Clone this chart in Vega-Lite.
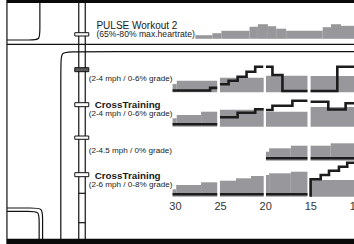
{
  "$schema": "https://vega.github.io/schema/vega-lite/v6.json",
  "width": 354,
  "height": 244,
  "padding": 0,
  "autosize": {"type": "none"},
  "background": "#ffffff",
  "config": {"view": {"stroke": null}},
  "datasets": {
    "gray": [
      {"t": 27.57, "t2": 25.69, "v": 35.2, "v2": 38.8},
      {"t": 25.69, "t2": 24.70, "v": 33.2, "v2": 38.8},
      {"t": 24.70, "t2": 21.57, "v": 30.8, "v2": 38.8},
      {"t": 21.57, "t2": 20.64, "v": 26.7, "v2": 38.8},
      {"t": 20.64, "t2": 19.53, "v": 24.2, "v2": 38.8},
      {"t": 19.53, "t2": 18.62, "v": 26.2, "v2": 38.8},
      {"t": 18.62, "t2": 17.51, "v": 28.7, "v2": 38.8},
      {"t": 17.51, "t2": 13.46, "v": 30.8, "v2": 38.8},
      {"t": 13.46, "t2": 12.54, "v": 27.2, "v2": 38.8},
      {"t": 12.54, "t2": 11.43, "v": 24.2, "v2": 38.8},
      {"t": 11.43, "t2": 9.9, "v": 25.8, "v2": 38.8},

      {"t": 30.1, "t2": 29.64, "v": 84.0, "v2": 92.3},
      {"t": 29.64, "t2": 25.15, "v": 80.7, "v2": 92.3},
      {"t": 24.85, "t2": 20.0, "v": 77.7, "v2": 92.3},
      {"t": 19.75, "t2": 15.15, "v": 75.7, "v2": 92.3},
      {"t": 14.8, "t2": 9.9, "v": 76.0, "v2": 92.3},

      {"t": 30.1, "t2": 29.64, "v": 118.3, "v2": 126.7},
      {"t": 29.64, "t2": 26.94, "v": 115.0, "v2": 126.7},
      {"t": 26.94, "t2": 25.15, "v": 111.7, "v2": 126.7},
      {"t": 24.85, "t2": 20.0, "v": 109.8, "v2": 126.7},
      {"t": 19.75, "t2": 15.15, "v": 111.7, "v2": 126.7},
      {"t": 14.8, "t2": 9.9, "v": 107.0, "v2": 126.7},

      {"t": 19.75, "t2": 19.4, "v": 151.7, "v2": 160.7},
      {"t": 19.4, "t2": 16.99, "v": 148.3, "v2": 160.7},
      {"t": 16.99, "t2": 15.15, "v": 145.7, "v2": 160.7},
      {"t": 14.8, "t2": 12.57, "v": 145.7, "v2": 160.7},
      {"t": 12.57, "t2": 9.9, "v": 143.3, "v2": 160.7},

      {"t": 30.1, "t2": 29.7, "v": 189.3, "v2": 196.7},
      {"t": 29.7, "t2": 26.94, "v": 185.0, "v2": 196.7},
      {"t": 26.94, "t2": 25.15, "v": 182.3, "v2": 196.7},
      {"t": 24.85, "t2": 23.07, "v": 180.7, "v2": 196.7},
      {"t": 23.07, "t2": 21.41, "v": 178.3, "v2": 196.7},
      {"t": 21.41, "t2": 20.0, "v": 176.0, "v2": 196.7},
      {"t": 19.75, "t2": 19.4, "v": 175.0, "v2": 196.7},
      {"t": 19.4, "t2": 16.99, "v": 173.3, "v2": 196.7},
      {"t": 16.99, "t2": 15.15, "v": 171.7, "v2": 196.7},
      {"t": 14.8, "t2": 9.9, "v": 180.0, "v2": 196.7}
    ],
    "steps": [
      {"id": "r1a", "i": 1, "t": 30.1, "v": 90.5},
      {"id": "r1a", "i": 2, "t": 25.94, "v": 90.5},
      {"id": "r1a", "i": 3, "t": 25.94, "v": 87.9},
      {"id": "r1a", "i": 4, "t": 25.15, "v": 87.9},

      {"id": "r1b", "i": 1, "t": 24.85, "v": 84.3},
      {"id": "r1b", "i": 2, "t": 23.89, "v": 84.3},
      {"id": "r1b", "i": 3, "t": 23.89, "v": 80.7},
      {"id": "r1b", "i": 4, "t": 22.89, "v": 80.7},
      {"id": "r1b", "i": 5, "t": 22.89, "v": 76.7},
      {"id": "r1b", "i": 6, "t": 21.90, "v": 76.7},
      {"id": "r1b", "i": 7, "t": 21.90, "v": 71.7},
      {"id": "r1b", "i": 8, "t": 20.94, "v": 71.7},
      {"id": "r1b", "i": 9, "t": 20.94, "v": 66.7},
      {"id": "r1b", "i": 10, "t": 20.05, "v": 66.7},

      {"id": "r1c", "i": 1, "t": 19.75, "v": 66.7},
      {"id": "r1c", "i": 2, "t": 19.03, "v": 66.7},
      {"id": "r1c", "i": 3, "t": 19.03, "v": 75.0},
      {"id": "r1c", "i": 4, "t": 17.92, "v": 75.0},
      {"id": "r1c", "i": 5, "t": 17.92, "v": 91.0},
      {"id": "r1c", "i": 6, "t": 15.15, "v": 91.0},

      {"id": "r1d", "i": 1, "t": 14.8, "v": 91.0},
      {"id": "r1d", "i": 2, "t": 11.84, "v": 91.0},
      {"id": "r1d", "i": 3, "t": 11.84, "v": 66.7},
      {"id": "r1d", "i": 4, "t": 9.9, "v": 66.7},

      {"id": "r2a", "i": 1, "t": 30.1, "v": 124.3},
      {"id": "r2a", "i": 2, "t": 25.15, "v": 124.3},

      {"id": "r2b", "i": 1, "t": 24.85, "v": 117.3},
      {"id": "r2b", "i": 2, "t": 22.89, "v": 117.3},
      {"id": "r2b", "i": 3, "t": 22.89, "v": 112.7},
      {"id": "r2b", "i": 4, "t": 20.94, "v": 112.7},
      {"id": "r2b", "i": 5, "t": 20.94, "v": 109.3},
      {"id": "r2b", "i": 6, "t": 20.0, "v": 109.3},

      {"id": "r2c", "i": 1, "t": 19.75, "v": 110.0},
      {"id": "r2c", "i": 2, "t": 19.03, "v": 110.0},
      {"id": "r2c", "i": 3, "t": 19.03, "v": 105.7},
      {"id": "r2c", "i": 4, "t": 16.82, "v": 105.7},
      {"id": "r2c", "i": 5, "t": 16.82, "v": 100.7},
      {"id": "r2c", "i": 6, "t": 15.15, "v": 100.7},

      {"id": "r2d", "i": 1, "t": 14.8, "v": 101.7},
      {"id": "r2d", "i": 2, "t": 12.84, "v": 101.7},
      {"id": "r2d", "i": 3, "t": 12.84, "v": 109.5},
      {"id": "r2d", "i": 4, "t": 10.92, "v": 109.5},
      {"id": "r2d", "i": 5, "t": 10.92, "v": 103.3},
      {"id": "r2d", "i": 6, "t": 9.9, "v": 103.3},

      {"id": "r3c", "i": 1, "t": 19.75, "v": 158.3},
      {"id": "r3c", "i": 2, "t": 15.15, "v": 158.3},
      {"id": "r3d", "i": 1, "t": 14.8, "v": 158.3},
      {"id": "r3d", "i": 2, "t": 9.9, "v": 158.3},

      {"id": "r4a", "i": 1, "t": 30.1, "v": 194.3},
      {"id": "r4a", "i": 2, "t": 25.15, "v": 194.3},
      {"id": "r4b", "i": 1, "t": 24.85, "v": 194.3},
      {"id": "r4b", "i": 2, "t": 20.0, "v": 194.3},
      {"id": "r4c", "i": 1, "t": 19.75, "v": 194.3},
      {"id": "r4c", "i": 2, "t": 15.15, "v": 194.3},

      {"id": "r4d", "i": 1, "t": 14.8, "v": 196.7},
      {"id": "r4d", "i": 2, "t": 14.8, "v": 179.3},
      {"id": "r4d", "i": 3, "t": 13.68, "v": 179.3},
      {"id": "r4d", "i": 4, "t": 13.68, "v": 175.0},
      {"id": "r4d", "i": 5, "t": 12.76, "v": 175.0},
      {"id": "r4d", "i": 6, "t": 12.76, "v": 170.7},
      {"id": "r4d", "i": 7, "t": 11.66, "v": 170.7},
      {"id": "r4d", "i": 8, "t": 11.66, "v": 166.7},
      {"id": "r4d", "i": 9, "t": 10.74, "v": 166.7},
      {"id": "r4d", "i": 10, "t": 10.74, "v": 162.7},
      {"id": "r4d", "i": 11, "t": 9.9, "v": 162.7}
    ],
    "rules": [
      {"t": 48.46, "t2": 48.46, "v": 0, "v2": 244},
      {"t": 48.46, "t2": 9.9, "v": 44.3, "v2": 44.3},
      {"t": 40.50, "t2": 40.50, "v": 3, "v2": 239},
      {"t": 39.78, "t2": 39.78, "v": 3, "v2": 239},
      {"t": 40.50, "t2": 39.78, "v": 193.3, "v2": 193.3},
      {"t": 40.50, "t2": 39.78, "v": 222.7, "v2": 222.7}
    ],
    "bars": [
      {"t": 48.46, "t2": 9.9, "v": 0, "v2": 3},
      {"t": 48.46, "t2": 9.9, "v": 238.7, "v2": 244}
    ],
    "curves": [
      {"id": "c1", "i": 1, "t": 44.81, "v": 3},
      {"id": "c1", "i": 2, "t": 44.81, "v": 31},
      {"id": "c1", "i": 3, "t": 44.81, "v": 40},
      {"id": "c1", "i": 4, "t": 45.80, "v": 40},
      {"id": "c1", "i": 5, "t": 48.46, "v": 40},
      {"id": "c2", "i": 1, "t": 9.9, "v": 51.7},
      {"id": "c2", "i": 2, "t": 41.16, "v": 51.7},
      {"id": "c2", "i": 3, "t": 42.49, "v": 51.7},
      {"id": "c2", "i": 4, "t": 42.49, "v": 63.7},
      {"id": "c2", "i": 5, "t": 42.49, "v": 239},
      {"id": "c3", "i": 1, "t": 48.46, "v": 208},
      {"id": "c3", "i": 2, "t": 45.58, "v": 208},
      {"id": "c3", "i": 3, "t": 44.51, "v": 208},
      {"id": "c3", "i": 4, "t": 44.51, "v": 217.7},
      {"id": "c3", "i": 5, "t": 44.51, "v": 239},
      {"id": "c4", "i": 1, "t": 48.46, "v": 211.3},
      {"id": "c4", "i": 2, "t": 45.91, "v": 211.3},
      {"id": "c4", "i": 3, "t": 44.89, "v": 211.3},
      {"id": "c4", "i": 4, "t": 44.89, "v": 220.6},
      {"id": "c4", "i": 5, "t": 44.89, "v": 239}
    ],
    "tabs": [
      {"t": 40.94, "t2": 39.39, "v": 32.7, "v2": 36.0, "kind": "plain"},
      {"t": 40.94, "t2": 39.39, "v": 67.7, "v2": 71.7, "kind": "marked"},
      {"t": 40.94, "t2": 39.39, "v": 102.7, "v2": 106.7, "kind": "plain"},
      {"t": 40.94, "t2": 39.39, "v": 136.0, "v2": 139.3, "kind": "plain"},
      {"t": 40.94, "t2": 39.39, "v": 172.7, "v2": 176.7, "kind": "plain"}
    ],
    "texts": [
      {"t": 38.54, "v": 28.6, "label": "PULSE Workout 2", "role": "title"},
      {"t": 38.54, "v": 37.2, "label": "(65%-80% max.heartrate)", "role": "sub"},
      {"t": 39.40, "v": 81, "label": "(2-4 mph / 0-6% grade)", "role": "spec"},
      {"t": 38.73, "v": 108.3, "label": "CrossTraining", "role": "ct"},
      {"t": 39.40, "v": 116, "label": "(2-4 mph / 0-6% grade)", "role": "spec"},
      {"t": 39.40, "v": 153, "label": "(2-4.5 mph / 0% grade)", "role": "spec"},
      {"t": 38.73, "v": 179, "label": "CrossTraining", "role": "ct"},
      {"t": 39.40, "v": 187, "label": "(2-6 mph / 0-8% grade)", "role": "spec"}
    ]
  },
  "encoding": {
    "x": {
      "field": "t",
      "type": "quantitative",
      "scale": {"domain": [9.99, 49.23], "reverse": true, "nice": false, "zero": false},
      "axis": {
        "values": [30, 25, 20, 15, 10],
        "orient": "bottom",
        "offset": -35,
        "domain": false,
        "ticks": false,
        "grid": false,
        "labelPadding": 0,
        "labelBaseline": "alphabetic",
        "labelFontSize": 11,
        "labelFont": "Liberation Sans",
        "labelColor": "#333333",
        "labelOffset": 1.5,
        "labelFlush": false,
        "labelOverlap": false,
        "labelBound": false,
        "title": null
      }
    },
    "y": {
      "field": "v",
      "type": "quantitative",
      "scale": {"domain": [0, 244], "reverse": true, "nice": false, "zero": false},
      "axis": null
    }
  },
  "layer": [
    {
      "data": {"name": "gray"},
      "mark": {"type": "rect", "color": "#98989c"},
      "encoding": {"x2": {"field": "t2"}, "y2": {"field": "v2"}}
    },
    {
      "data": {"name": "steps"},
      "mark": {"type": "line", "color": "#1c1c1c", "strokeWidth": 2.6, "strokeJoin": "miter", "strokeCap": "butt"},
      "encoding": {"detail": {"field": "id"}, "order": {"field": "i", "type": "quantitative"}}
    },
    {
      "data": {"name": "rules"},
      "mark": {"type": "rule", "color": "#111111", "strokeWidth": 1.2},
      "encoding": {"x2": {"field": "t2"}, "y2": {"field": "v2"}}
    },
    {
      "data": {"name": "bars"},
      "mark": {"type": "rect", "color": "#0a0a0a"},
      "encoding": {"x2": {"field": "t2"}, "y2": {"field": "v2"}}
    },
    {
      "data": {"name": "curves"},
      "mark": {"type": "line", "color": "#111111", "strokeWidth": 1.2, "interpolate": "basis"},
      "encoding": {"detail": {"field": "id"}, "order": {"field": "i", "type": "quantitative"}}
    },
    {
      "data": {"name": "tabs"},
      "mark": {"type": "rect", "stroke": "#111111", "strokeWidth": 1},
      "encoding": {
        "x2": {"field": "t2"},
        "y2": {"field": "v2"},
        "color": {"field": "kind", "type": "nominal", "scale": {"domain": ["plain", "marked"], "range": ["#ffffff", "#5a5a5a"]}, "legend": null}
      }
    },
    {
      "data": {"name": "texts"},
      "transform": [{"filter": "datum.role == 'title'"}],
      "mark": {"type": "text", "align": "left", "baseline": "alphabetic", "font": "Liberation Sans", "fontSize": 10, "color": "#1a1a1a"},
      "encoding": {"text": {"field": "label"}}
    },
    {
      "data": {"name": "texts"},
      "transform": [{"filter": "datum.role == 'sub'"}],
      "mark": {"type": "text", "align": "left", "baseline": "alphabetic", "font": "Liberation Sans", "fontSize": 8.6, "color": "#1a1a1a"},
      "encoding": {"text": {"field": "label"}}
    },
    {
      "data": {"name": "texts"},
      "transform": [{"filter": "datum.role == 'spec'"}],
      "mark": {"type": "text", "align": "left", "baseline": "alphabetic", "font": "Liberation Sans", "fontSize": 8.1, "color": "#1a1a1a"},
      "encoding": {"text": {"field": "label"}}
    },
    {
      "data": {"name": "texts"},
      "transform": [{"filter": "datum.role == 'ct'"}],
      "mark": {"type": "text", "align": "left", "baseline": "alphabetic", "font": "Liberation Sans", "fontSize": 9.8, "fontWeight": "bold", "letterSpacing": 0.6, "color": "#1a1a1a"},
      "encoding": {"text": {"field": "label"}}
    }
  ]
}
